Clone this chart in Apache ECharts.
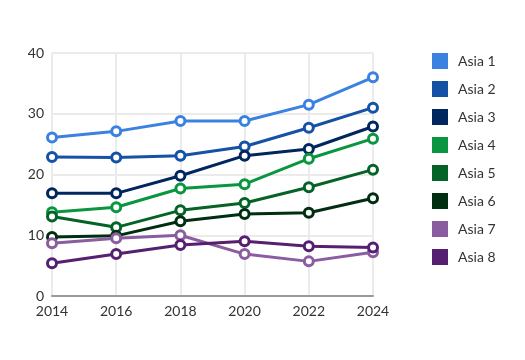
<!DOCTYPE html>
<html><head><meta charset="utf-8">
<script src="https://cdn.jsdelivr.net/npm/echarts@6/dist/echarts.min.js"></script>
<style>html,body{margin:0;padding:0;background:#fff}#c{width:525px;height:360px}</style>
</head><body><div id="c"></div>
<script>
const years = ['2014','2016','2018','2020','2022','2024'];
const names = ['Asia 1','Asia 2','Asia 3','Asia 4','Asia 5','Asia 6','Asia 7','Asia 8'];
const colors = ['#3b82e0','#1552a6','#00265e','#0a9540','#056327','#002e10','#8a5ca0','#561f70'];
const asia1 = [26.1, 27.1, 28.8, 28.8, 31.5, 36.0];
const asia2 = [22.9, 22.8, 23.1, 24.6, 27.7, 31.0];
const asia3 = [16.9, 16.9, 19.8, 23.1, 24.2, 27.9];
const asia4 = [13.8, 14.6, 17.7, 18.4, 22.6, 25.9];
const asia5 = [13.1, 11.3, 14.1, 15.3, 17.9, 20.8];
const asia6 = [9.7, 9.9, 12.3, 13.5, 13.7, 16.1];
const asia7 = [8.7, 9.5, 10.0, 6.9, 5.7, 7.2];
const asia8 = [5.4, 6.9, 8.4, 9.0, 8.2, 8.0];
const data = [asia1, asia2, asia3, asia4, asia5, asia6, asia7, asia8];
const font = 'Lato, "Open Sans", sans-serif';
const chart = echarts.init(document.getElementById('c'));
chart.setOption({
  animation: false,
  color: colors,
  textStyle: {fontFamily: font},
  grid: {left: 52, right: 152, top: 53, bottom: 64, containLabel: false},
  legend: {
    orient: 'vertical', left: 427, top: 48,
    itemWidth: 16, itemHeight: 16, itemGap: 12,
    icon: 'rect',
    textStyle: {fontSize: 14, color: '#333', fontFamily: font, padding: [0, 0, 0, 5]},
    data: names.map((n, i) => ({name: n, itemStyle: {color: colors[i], borderWidth: 0}}))
  },
  xAxis: {
    type: 'category', data: years, boundaryGap: false,
    axisLine: {lineStyle: {color: '#999', width: 2}},
    axisTick: {show: false},
    axisLabel: {fontSize: 14, color: '#333', margin: 8},
    splitLine: {show: true, lineStyle: {color: '#ebebeb', width: 2}}
  },
  yAxis: {
    type: 'value', min: 0, max: 40, interval: 10,
    axisLine: {show: false}, axisTick: {show: false},
    axisLabel: {fontSize: 14, color: '#333', margin: 8},
    splitLine: {lineStyle: {color: '#ebebeb', width: 2}}
  },
  series: names.map((n, i) => ({
    name: n, type: 'line', data: data[i],
    symbol: 'circle', symbolSize: 9,
    lineStyle: {width: 3, color: colors[i]},
    itemStyle: {color: '#fff', borderColor: colors[i], borderWidth: 3}
  }))
});
</script></body></html>
